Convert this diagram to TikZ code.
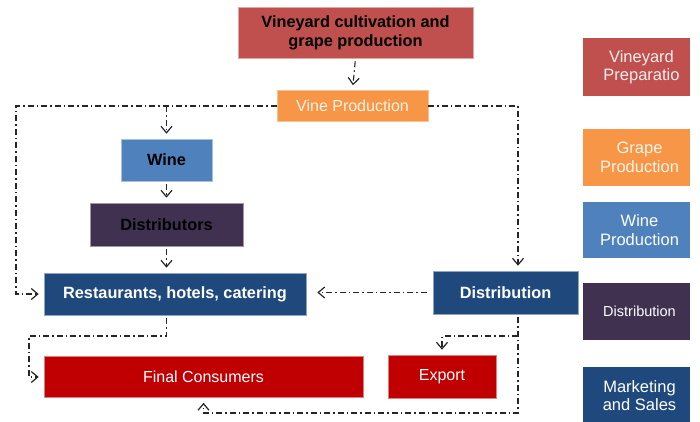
\documentclass[tikz,border=0pt]{standalone}
\usepackage{fontspec}
\setmainfont{Liberation Sans}
\usetikzlibrary{arrows.meta}
\definecolor{cRed}{HTML}{C0504D}
\definecolor{cOrange}{HTML}{F79646}
\definecolor{cBlue}{HTML}{4F81BD}
\definecolor{cPurple}{HTML}{403151}
\definecolor{cNavy}{HTML}{1F497D}
\definecolor{cDeep}{HTML}{C00000}
\begin{document}
\begin{tikzpicture}[x=1pt,y=-1pt,
  box/.style={inner sep=0pt, align=center, line width=0.6pt, font=\fontsize{16}{19}\selectfont},
  boldbox/.style={box, font=\fontsize{16.3}{19}\selectfont\bfseries},
  leg/.style={inner sep=0pt, minimum width=107pt},
  legtext/.style={inner sep=0pt, align=center, text=white, font=\fontsize{16.5}{18.5}\selectfont},
  conn/.style={draw=black!85, line width=1.1pt, dash pattern=on 6pt off 3pt on 1.5pt off 3pt,
    -{Straight Barb[length=6.5pt,width=11pt,line width=1.2pt]}, shorten >=5pt}
]
\clip (0,0) rectangle (700,421);
\fill[white] (0,0) rectangle (700,421);

% main boxes
\node[boldbox, fill=cRed, draw=cRed!50!white, minimum width=235pt, minimum height=51pt] (top) at (355.5,32.5) {Vineyard cultivation and\\grape production};
\node[box, fill=cOrange, draw=cOrange!60!white, text=white!88!cOrange, minimum width=151pt, minimum height=31pt] (vine) at (352.5,106) {Vine Production};
\node[boldbox, fill=cBlue, draw=cBlue!50!white, minimum width=91pt, minimum height=42pt] (wine) at (166.5,160) {Wine};
\node[boldbox, fill=cPurple, draw=cPurple!50!white, minimum width=153pt, minimum height=43pt] (dists) at (166.5,224.5) {Distributors};
\node[boldbox, fill=cNavy, draw=cNavy!50!white, text=white, minimum width=262pt, minimum height=42pt] (rest) at (175,294) {Restaurants, hotels, catering};
\node[boldbox, fill=cNavy, draw=cNavy!50!white, text=white, minimum width=145pt, minimum height=43pt] (distr) at (505.5,292.5) {Distribution};
\node[box, fill=cDeep, draw=cDeep!50!white, text=white, minimum width=319pt, minimum height=41pt] (final) at (203.5,377) {Final Consumers};
\node[box, fill=cDeep, draw=cDeep!50!white, text=white, minimum width=108pt, minimum height=43pt] (export) at (442,376.5) {Export};

% legend
\node[leg, fill=cRed, minimum height=58pt] (l1) at (636.5,67) {};
\node[leg, fill=cOrange, minimum height=57pt] (l2) at (636.5,157.5) {};
\node[leg, fill=cBlue, minimum height=56pt] (l3) at (636.5,230) {};
\node[leg, fill=cPurple, minimum height=57pt] (l4) at (636.5,311.5) {};
\node[leg, fill=cNavy, minimum height=57pt] (l5) at (636.5,395.5) {};
\node[legtext, text=white!90!cRed] (t1) at ([xshift=5pt]l1.center) {Vineyard\\Preparatio};
\node[legtext, text=white!90!cOrange] (t2) at ([xshift=3pt]l2.center) {Grape\\Production};
\node[legtext] (t3) at ([xshift=3pt]l3.center) {Wine\\Production};
\node[legtext, font=\fontsize{14.5}{17}\selectfont] (t4) at ([xshift=3pt]l4.center) {Distribution};
\node[legtext] (t5) at ([xshift=3pt]l5.center) {Marketing\\and Sales};

% helper coordinates
\coordinate (lx) at (16,0);
\coordinate (rx) at (518,0);
\coordinate (llx) at (29,0);
\coordinate (j1) at (166.5,336);
\coordinate (j2) at (518,336);
\coordinate (b) at (518,413);

% connectors
\draw[conn, shorten <=3pt] (top.south) -- (vine.north);
\draw[conn] (vine.west) -| (rest.west -| lx) -- (rest.west);
\draw[conn] (wine.north |- vine.west) -- (wine.north);
\draw[conn] (vine.east) -| (distr.north -| rx);
\draw[conn, shorten <=3pt] (wine.south) -- (dists.north);
\draw[conn, shorten <=3pt] (dists.south) -- (rest.north -| dists.south);
\draw[conn, shorten <=6pt, shorten >=11pt] (distr.west) -- (rest.east |- distr.west);
\draw[conn, shorten <=3pt] (rest.south -| dists.south) -- (j1) -| (final.west -| llx) -- (final.west);
\draw[conn, shorten <=3pt] (distr.south -| rx) -- (b) -| (final.south);
\draw[conn] (j2) -| (export.north);
\end{tikzpicture}
\end{document}
